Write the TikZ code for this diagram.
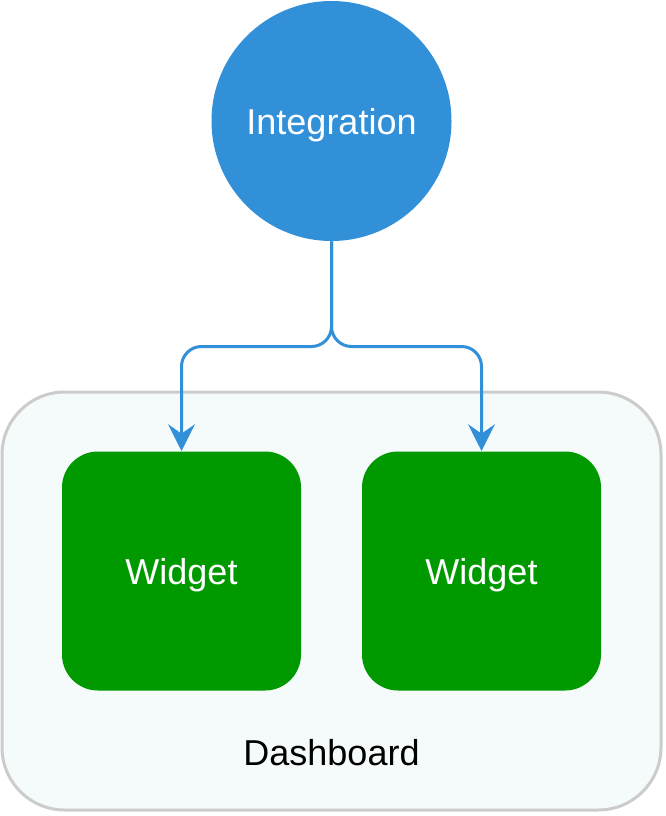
\documentclass[tikz,border=0pt]{standalone}
\usepackage{fontspec}
\setmainfont{Liberation Sans}
\usetikzlibrary{arrows.meta}
\definecolor{integblue}{RGB}{50,144,217}
\definecolor{widgetgreen}{RGB}{0,153,0}
\definecolor{dashfill}{RGB}{245,250,250}
\definecolor{dashline}{RGB}{204,204,204}
\tikzset{every picture/.style={line width=0.75pt}}

\begin{document}
\begin{tikzpicture}[x=0.75pt,y=0.75pt,yscale=-1,xscale=1,
	bigtext/.style={font=\fontsize{27}{32}\selectfont},
	dashbox/.style={draw=dashline,fill=dashfill,line width=2.25pt,rounded corners=47pt,inner sep=0pt,minimum width=494.25pt,minimum height=313.5pt},
	widgetbox/.style={fill=widgetgreen,rounded corners=27pt,inner sep=0pt,minimum size=179.25pt,text=white,text depth=0pt,bigtext},
	integcirc/.style={circle,fill=integblue,inner sep=0pt,minimum size=180pt,text=white,text depth=0pt,bigtext},
	flow/.style={draw=integblue,line width=2.25pt,rounded corners=15pt,-{Stealth[length=20pt,width=20pt,inset=7pt]}}]
	\useasboundingbox (0,0) rectangle (666,816);

	%Shape: Container
	\draw (331.5,601) node[dashbox] (dash) {};
	% Text Node
	\draw (331.5,765) node[bigtext,anchor=base] (dashlabel) {Dashboard};

	%Shape: Circle
	\draw (331.5,121) node[integcirc] (integ) {Integration};

	%Shape: Rounded Rect
	\draw (181.5,571) node[widgetbox] (widgetA) {Widget};
	%Shape: Rounded Rect
	\draw (481.5,571) node[widgetbox] (widgetB) {Widget};

	\coordinate (split) at (331.5,346.5);
	%Connectors
	\draw [flow] (integ.south) -- (split) -| (widgetA.north);
	\draw [flow] (integ.south) -- (split) -| (widgetB.north);

\end{tikzpicture}
\end{document}
